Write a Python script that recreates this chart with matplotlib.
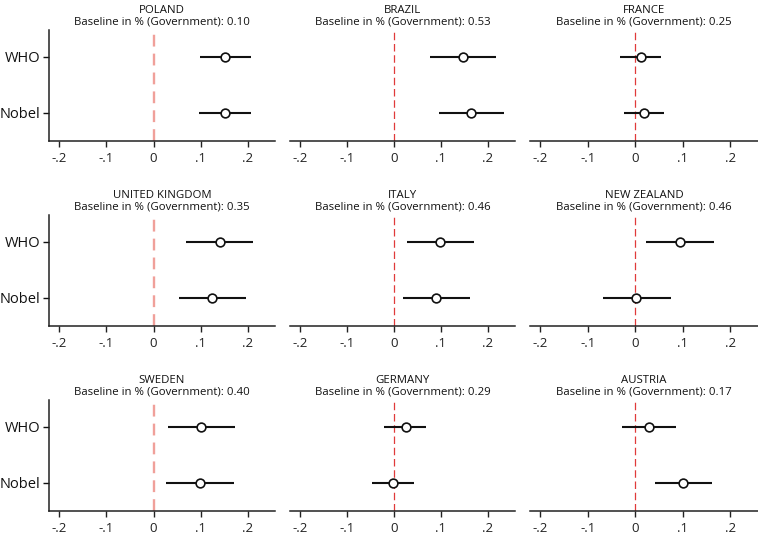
import matplotlib
matplotlib.use("Agg")
import matplotlib.pyplot as plt

plt.rcParams['font.family'] = ['Open Sans', 'DejaVu Sans']

countries = ["POLAND", "BRAZIL", "FRANCE",
             "UNITED KINGDOM", "ITALY", "NEW ZEALAND",
             "SWEDEN", "GERMANY", "AUSTRIA"]
baselines = ["0.10", "0.53", "0.25", "0.35", "0.46", "0.46", "0.40", "0.29", "0.17"]
groups = ["WHO", "Nobel"]

who_est = [0.152, 0.146, 0.011, 0.141, 0.099, 0.093, 0.101, 0.025, 0.029]
who_lo  = [0.099, 0.077, -0.033, 0.069, 0.027, 0.022, 0.030, -0.021, -0.028]
who_hi  = [0.206, 0.217, 0.054, 0.212, 0.171, 0.166, 0.173, 0.069, 0.085]

nobel_est = [0.151, 0.165, 0.018, 0.125, 0.089, 0.002, 0.098, -0.002, 0.101]
nobel_lo  = [0.097, 0.096, -0.025, 0.054, 0.018, -0.069, 0.026, -0.048, 0.042]
nobel_hi  = [0.206, 0.235, 0.061, 0.196, 0.162, 0.074, 0.171, 0.043, 0.161]

xticks = [-0.2, -0.1, 0.0, 0.1, 0.2]
xtick_labels = ["-.2", "-.1", "0", ".1", ".2"]

W, H = 758, 537
fig = plt.figure(figsize=(W / 100, H / 100), dpi=100)

col_left = [49, 290, 530]
col_width = [226, 225, 228]
row_top = [30, 215, 400]
row_h = 111

ypos = {"WHO": 2, "Nobel": 1}

for i, c in enumerate(countries):
    r, k = divmod(i, 3)
    ax = fig.add_axes([col_left[k] / W, 1 - (row_top[r] + row_h) / H,
                       col_width[k] / W, row_h / H])
    ax.set_xlim(-0.222, 0.258)
    ax.set_ylim(0.5, 2.48)
    # reference line
    if k == 0:
        ax.axvline(0, color='#f0a09a', lw=1.7, ls=(0, (5, 3)), zorder=1)
    else:
        ax.axvline(0, color='#e03a3a', lw=0.9, ls=(0, (6, 3)), zorder=1)
    est = [who_est[i], nobel_est[i]]
    lo = [who_lo[i], nobel_lo[i]]
    hi = [who_hi[i], nobel_hi[i]]
    for g, e, l, h in zip(groups, est, lo, hi):
        y = ypos[g]
        ax.plot([l, h], [y, y], color='#111111', lw=1.5, solid_capstyle='butt', zorder=2)
        ax.plot([e], [y], marker='o', ms=6.3, mfc='white', mec='#111111', mew=1.2, zorder=3)
    ax.set_xticks(xticks)
    ax.set_xticklabels(xtick_labels)
    ax.tick_params(axis='x', length=4, width=1.0, labelsize=9.5, pad=4, colors='#222222')
    for s in ['top', 'right']:
        ax.spines[s].set_visible(False)
    ax.spines['bottom'].set_linewidth(1.1)
    ax.spines['bottom'].set_color('#222222')
    if k == 0:
        ax.spines['left'].set_linewidth(1.1)
        ax.spines['left'].set_color('#222222')
        ax.set_yticks([ypos[g] for g in groups])
        ax.set_yticklabels(groups)
        ax.tick_params(axis='y', length=4, width=1.0, labelsize=10.5, pad=2.5, colors='#111111')
    else:
        ax.spines['left'].set_visible(False)
        ax.set_yticks([])
    ax.set_title(c + "\nBaseline in % (Government): " + baselines[i],
                 fontsize=8.2, pad=4, linespacing=1.0, color='#111111')
    ax.patch.set_alpha(0)

fig.savefig("out.png", dpi=100)
